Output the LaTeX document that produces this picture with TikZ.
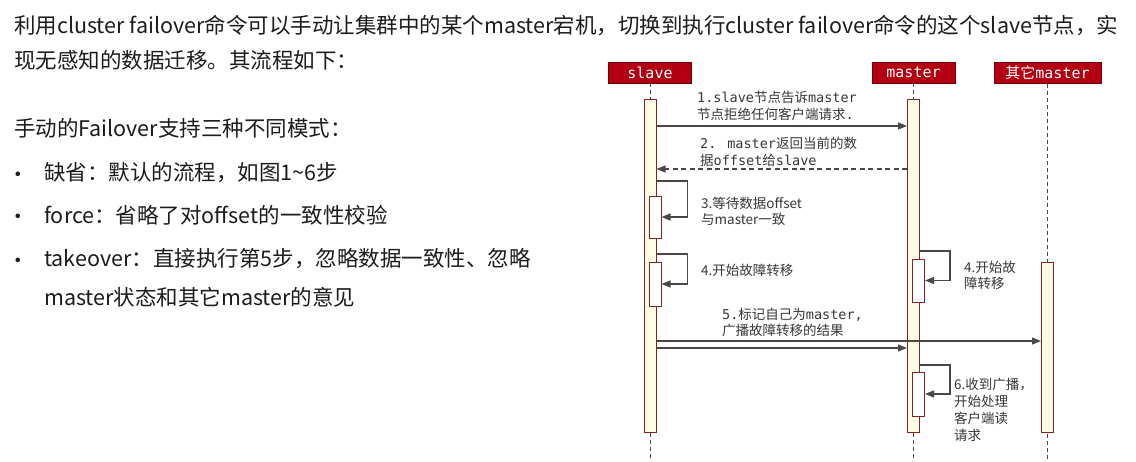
\documentclass[tikz,border=0pt]{standalone}
\usepackage{fontspec}
\setmainfont{Noto Sans CJK SC}
\newfontfamily\monof{DejaVu Sans Mono}
\usetikzlibrary{arrows.meta,calc}
\definecolor{hdr}{RGB}{178,0,18}
\definecolor{hdrb}{RGB}{120,0,10}
\definecolor{barfill}{RGB}{255,252,230}
\definecolor{barline}{RGB}{135,35,35}
\definecolor{arr}{RGB}{72,72,72}
\definecolor{txt}{RGB}{28,28,28}
\definecolor{lbl}{RGB}{55,55,55}
\newcommand\M[1]{{\monof #1}}
\begin{document}
\begin{tikzpicture}[x=1pt,y=-1pt,
 hdrbox/.style={draw=hdrb, fill=hdr, text=white, font=\fontsize{15}{15}\selectfont, minimum height=21pt, inner sep=0pt, line width=0.8pt},
 actbar/.style={draw=barline, fill=barfill, minimum width=12pt, inner sep=0pt, line width=1pt},
 subbar/.style={draw=barline, fill=white, minimum width=12pt, inner sep=0pt, line width=1pt},
 life/.style={draw=arr, dash pattern=on 4pt off 3pt, line width=0.8pt},
 msg/.style={draw=arr, line width=1.3pt, -{Triangle[length=9pt,width=7pt]}},
 lab/.style={anchor=west, align=left, inner sep=0pt, text=lbl, font=\fontsize{13.5}{16.5}\selectfont},
 body/.style={anchor=west, inner sep=0pt, text=txt, font=\fontsize{21.5}{26}\selectfont},
 bullet/.style={anchor=center, inner sep=0pt, text=txt, font=\fontsize{21.5}{26}\selectfont},
]
\useasboundingbox (0,0) rectangle (1136,461);
\fill[white] (0,0) rectangle (1136,461);

% left text
\node[body] (t1) at (14,25) {利用cluster failover命令可以手动让集群中的某个master宕机，切换到执行cluster failover命令的这个slave节点，实};
\node[body] (t2) at (14,60) {现无感知的数据迁移。其流程如下：};
\node[body] (t3) at (14,128) {手动的Failover支持三种不同模式：};
\node[bullet] (b1) at (18,177) {•};
\node[bullet] (b2) at (18,219) {•};
\node[bullet] (b3) at (18,263) {•};
\node[body] (t4) at (44,173) {缺省：默认的流程，如图1\textasciitilde 6步};
\node[body] (t5) at (44,215) {force：省略了对offset的一致性校验};
\node[body] (t6) at (44,259) {takeover：直接执行第5步，忽略数据一致性、忽略};
\node[body] (t7) at (44,297) {master状态和其它master的意见};

% headers
\node[hdrbox, minimum width=83pt] (hs) at (650,72.5) {\M{slave}};
\node[hdrbox, minimum width=83pt] (hm) at (913.5,72.5) {\M{master}};
\node[hdrbox, minimum width=107pt] (ho) at (1047.5,73) {其它\M{master}};

% lifelines
\coordinate (es) at (650,461);
\coordinate (em) at (913.5,461);
\coordinate (eo) at (1047.5,461);
\draw[life] (hs.south) -- (es);
\draw[life] (hm.south) -- (em);
\draw[life] (ho.south) -- (eo);

% activation bars
\node[actbar, minimum height=333pt] (sb) at (650,265.5) {};
\node[actbar, minimum height=333pt] (mb) at (913.5,265.5) {};
\node[actbar, minimum height=170pt] (ob) at (1047.5,347) {};

\node[subbar, minimum height=42pt] (s3) at (655,217) {};
\node[subbar, minimum height=44pt] (s4) at (655,284) {};
\node[subbar, minimum height=43pt] (m4) at (918.5,280.5) {};
\node[subbar, minimum height=44pt] (m6) at (918.5,394) {};

% messages
\draw[msg] (sb.east |- 0,126) -- (mb.west |- 0,126);
\draw[msg, dash pattern=on 5pt off 3.5pt] (mb.west |- 0,169) -- (sb.east |- 0,169);
\draw[msg] (sb.east |- 0,181) -- ++(31,0) |- (s3.east);
\draw[msg] (sb.east |- 0,254) -- ++(31,0) |- (s4.east);
\draw[msg] (mb.east |- 0,251) -- ++(30,0) |- (m4.east);
\draw[msg] (sb.east |- 0,341) -- (ob.west |- 0,341);
\draw[msg] (sb.east |- 0,348) -- (mb.west |- 0,348);
\draw[msg] (mb.east |- 0,365) -- ++(30,0) |- (m6.east);

% labels
\node[lab] (l1) at (697,106) {\M{1.slave}节点告诉\M{master}\\节点拒绝任何客户端请求\M{.}};
\node[lab] (l2) at (700,152) {\M{2. master}返回当前的数\\据\M{offset}给\M{slave}};
\node[lab] (l3) at (701,211.5) {3.等待数据offset\\与master一致};
\node[lab] (l4) at (701,270) {4.开始故障转移};
\node[lab] (l4m) at (964,275.5) {4.开始故\\障转移};
\node[lab] (l5) at (722,322.5) {\M{5.}标记自己为\M{master,}\\广播故障转移的结果};
\node[lab, font=\fontsize{13.5}{17}\selectfont] (l6) at (954,409.5) {6.收到广播，\\开始处理\\客户端读\\请求};
\end{tikzpicture}
\end{document}
